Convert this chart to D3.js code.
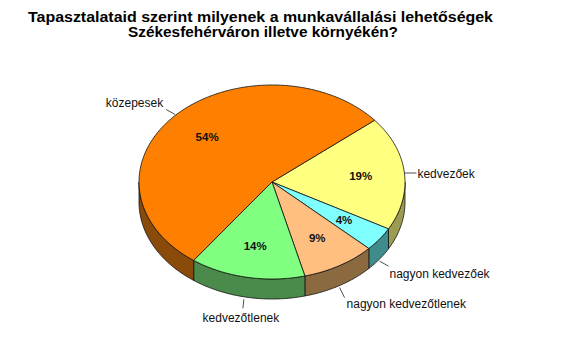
<!DOCTYPE html>
<html><head><meta charset="utf-8">
<script src="https://cdn.jsdelivr.net/npm/d3@7"></script>
<style>body{margin:0;background:#fff} svg{display:block}</style>
</head><body>
<script>
// ---- data ----
const categories = ["kedvezőek","nagyon kedvezőek","nagyon kedvezőtlenek","kedvezőtlenek","közepesek"];
const values = [19,4,9,14,54];
const percentLabels = ["19%","4%","9%","14%","54%"];
const topColors = ["#FFFF80","#80FFFF","#FFBF80","#80FF80","#FF8000"];
const sideColors = ["#9C9C50","#3F8C8C","#8C6A3F","#4A8A4A","#8A4A0A"];
const titleLines = ["Tapasztalataid szerint milyenek a munkavállalási lehetőségek","Székesfehérváron illetve környékén?"];

// ---- layout ----
const W=575, H=342, cx=272, cy=182, rx=133, ry=97, depth=20;
const startAngle = 0.881;
const FONT = "Arial, 'Liberation Sans', sans-serif";
const titleWidths = [465, 270];
// leader layout per category: start offset from anchor, end offset from start, text offset from end, anchor
const labelLayout = [
  {s:[0,0],  e:[12,0],  t:[1,4.5],  a:"start"},
  {s:[0,2],  e:[9,5],   t:[1,12],   a:"start"},
  {s:[0,2],  e:[5,10],  t:[2,10],   a:"start"},
  {s:[-3,2], e:[-1,9],  t:[-2,14],  a:"middle"},
  {s:[0,-1], e:[-9,-5], t:[-3,-3],  a:"end"}
];

const svg = d3.select("body").append("svg").attr("width",W).attr("height",H);

const pie = d3.pie().sort(null).value(d=>d)
  .startAngle(startAngle).endAngle(startAngle+2*Math.PI);
const arcs = pie(values);

function pt(a, r=1, dz=0){ return [cx + rx*r*Math.sin(a), cy - ry*r*Math.cos(a) + dz]; }
function sample(a0,a1,dz=0){
  const n = Math.max(2, Math.ceil(Math.abs(a1-a0)/0.02));
  return d3.range(n+1).map(i=>pt(a0+(a1-a0)*i/n,1,dz));
}
const line = d3.line();

// walls (front half only)
const fronts = [[Math.PI/2, 3*Math.PI/2],[Math.PI/2+2*Math.PI, 3*Math.PI/2+2*Math.PI]];
const g = svg.append("g");
arcs.forEach((d,i)=>{
  fronts.forEach(([f0,f1])=>{
    const lo = Math.max(d.startAngle,f0), hi = Math.min(d.endAngle,f1);
    if(hi>lo){
      const pts = sample(lo,hi,0).concat(sample(hi,lo,depth));
      g.append("path").attr("d", line(pts)+"Z")
        .attr("fill", sideColors[i]).attr("stroke","#111").attr("stroke-width",0.8)
        .attr("stroke-linejoin","round");
    }
  });
});
// tops
arcs.forEach((d,i)=>{
  const pts = [[cx,cy]].concat(sample(d.startAngle,d.endAngle,0));
  g.append("path").attr("d", line(pts)+"Z")
    .attr("fill", topColors[i]).attr("stroke","#111").attr("stroke-width",0.8)
    .attr("stroke-linejoin","round");
});

// percent labels
arcs.forEach((d,i)=>{
  const m = (d.startAngle+d.endAngle)/2;
  const p = pt(m,0.67);
  svg.append("text").attr("x",p[0]).attr("y",p[1]+4)
    .attr("text-anchor","middle").attr("font-family",FONT)
    .attr("font-weight","bold").attr("font-size",11.5).attr("fill","#111")
    .text(percentLabels[i]);
});

// category labels with leaders
arcs.forEach((d,i)=>{
  const m = (d.startAngle+d.endAngle)/2;
  const front = Math.cos(m) < 0;
  const anc = pt(m,1, front?depth:0);
  const L = labelLayout[i];
  const s = [anc[0]+L.s[0], anc[1]+L.s[1]];
  const e = [s[0]+L.e[0], s[1]+L.e[1]];
  svg.append("path").attr("d", line([s,e])).attr("stroke","#222").attr("stroke-width",0.8).attr("fill","none");
  svg.append("text").attr("x",e[0]+L.t[0]).attr("y",e[1]+L.t[1])
    .attr("text-anchor",L.a).attr("font-family",FONT).attr("font-size",12).attr("fill","#111")
    .text(categories[i]);
});

// title
svg.append("g").selectAll("text").data(titleLines).join("text")
  .attr("x",(d,i)=>i===0?260.5:263).attr("y",(d,i)=>22+i*15)
  .attr("text-anchor","middle").attr("font-family",FONT)
  .attr("font-weight","bold").attr("font-size",14).attr("fill","#000")
  .attr("textLength",(d,i)=>titleWidths[i]).attr("lengthAdjust","spacingAndGlyphs")
  .text(d=>d);
</script>
</body></html>
